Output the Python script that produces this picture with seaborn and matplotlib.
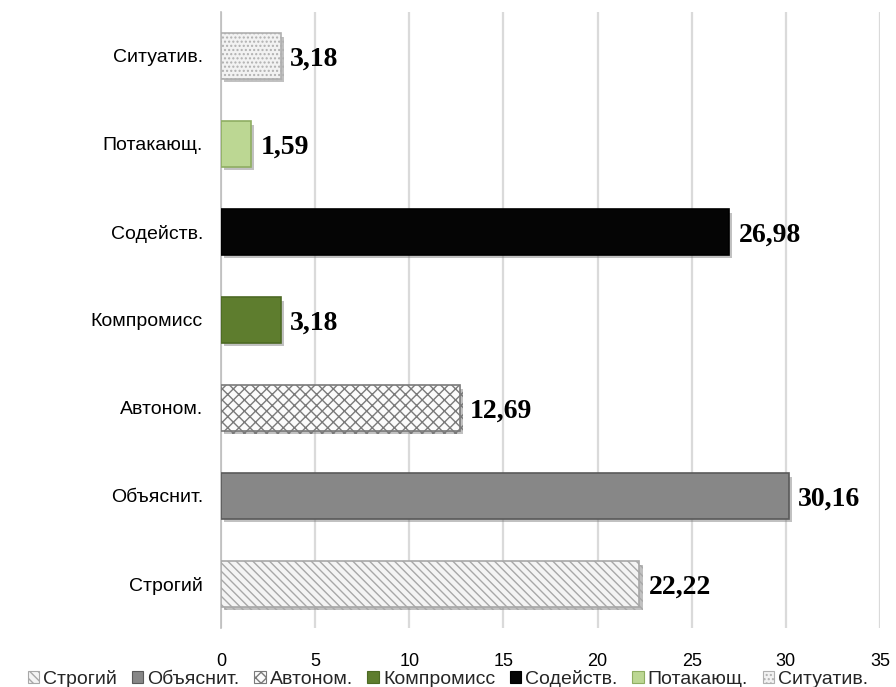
import matplotlib
matplotlib.use("Agg")
import matplotlib.pyplot as plt
import matplotlib.patheffects as pe
from matplotlib.patches import Patch
import numpy as np
import pandas as pd
import seaborn as sns

# Parenting styles, listed bottom-to-top as in the legend
styles = ["Строгий", "Объяснит.", "Автоном.", "Компромисс", "Содейств.", "Потакающ.", "Ситуатив."]
values = [22.22, 30.16, 12.69, 3.18, 26.98, 1.59, 3.18]
value_labels = ["22,22", "30,16", "12,69", "3,18", "26,98", "1,59", "3,18"]

face_colors = ["#f4f4f4", "#878787", "#fbfbfb", "#5e7d2e", "#050505", "#bcd793", "#f2f2f2"]
edge_colors = ["#a8a8a8", "#5a5a5a", "#7a7a7a", "#4d6a24", "#000000", "#8fae62", "#b0b0b0"]
hatches = ["\\\\\\\\", None, "xxx", None, None, None, "...."]

df = pd.DataFrame({"style": styles, "value": values})

sns.set_theme(style="white")
plt.rcParams["font.family"] = ["Liberation Sans", "DejaVu Sans"]

fig = plt.figure(figsize=(8.96, 6.87), dpi=100)
ax = fig.add_axes([221 / 896, 1 - 628 / 687, (880 - 221) / 896, (628 - 12) / 687])

order = styles[::-1]  # top-to-bottom on the axis
sns.barplot(data=df, x="value", y="style", hue="style", order=order, hue_order=styles,
            palette=dict(zip(styles, face_colors)), dodge=False, legend=False,
            width=0.52, orient="h", ax=ax, zorder=3)

shadow = [pe.SimplePatchShadow(offset=(2.5, -2.5), shadow_rgbFace="#777777", alpha=0.45), pe.Normal()]
for i, cont in enumerate(ax.containers):
    for bar in cont:
        bar.set_facecolor(face_colors[i])
        bar.set_edgecolor(edge_colors[i])
        bar.set_linewidth(1.2)
        if hatches[i]:
            bar.set_hatch(hatches[i])
        bar.set_path_effects(shadow)

# Value labels in bold serif to the right of each bar
for s, v, lab in zip(styles, values, value_labels):
    y = order.index(s)
    ax.text(v + 0.5, y + 0.04, lab, ha="left", va="center", fontsize=20,
            fontweight="bold", family=["Liberation Serif", "DejaVu Serif"], color="black",
            zorder=5)

ax.set_xlim(0, 35)
ax.set_ylim(len(order) - 0.5, -0.5)
ax.set_xticks(np.arange(0, 36, 5))
ax.set_xticklabels([str(t) for t in range(0, 36, 5)])
ax.xaxis.grid(True, color="#dadada", linewidth=1.6, zorder=0)
ax.yaxis.grid(False)
ax.set_xlabel("")
ax.set_ylabel("")

for side in ["top", "right", "bottom"]:
    ax.spines[side].set_visible(False)
ax.spines["left"].set_color("#bdbdbd")
ax.spines["left"].set_linewidth(1.2)

ax.tick_params(axis="x", length=0, labelsize=13, pad=18, colors="black")
ax.tick_params(axis="y", which="major", length=0, labelsize=14, pad=13, colors="black")
ax.set_yticks(np.arange(-0.5, len(order), 1.0), minor=True)
ax.tick_params(axis="y", which="minor", length=5, width=1.2, color="#bdbdbd", direction="out")

handles = [Patch(facecolor=fc, edgecolor=ec, hatch=h, linewidth=0.8)
           for fc, ec, h in zip(face_colors, edge_colors, hatches)]
fig.legend(handles, styles, loc="lower center", bbox_to_anchor=(0.5, -0.027), ncol=7,
           frameon=False, fontsize=14, handlelength=0.6, handleheight=0.6,
           handletextpad=0.2, columnspacing=0.75)

fig.savefig("out.png", dpi=100)
